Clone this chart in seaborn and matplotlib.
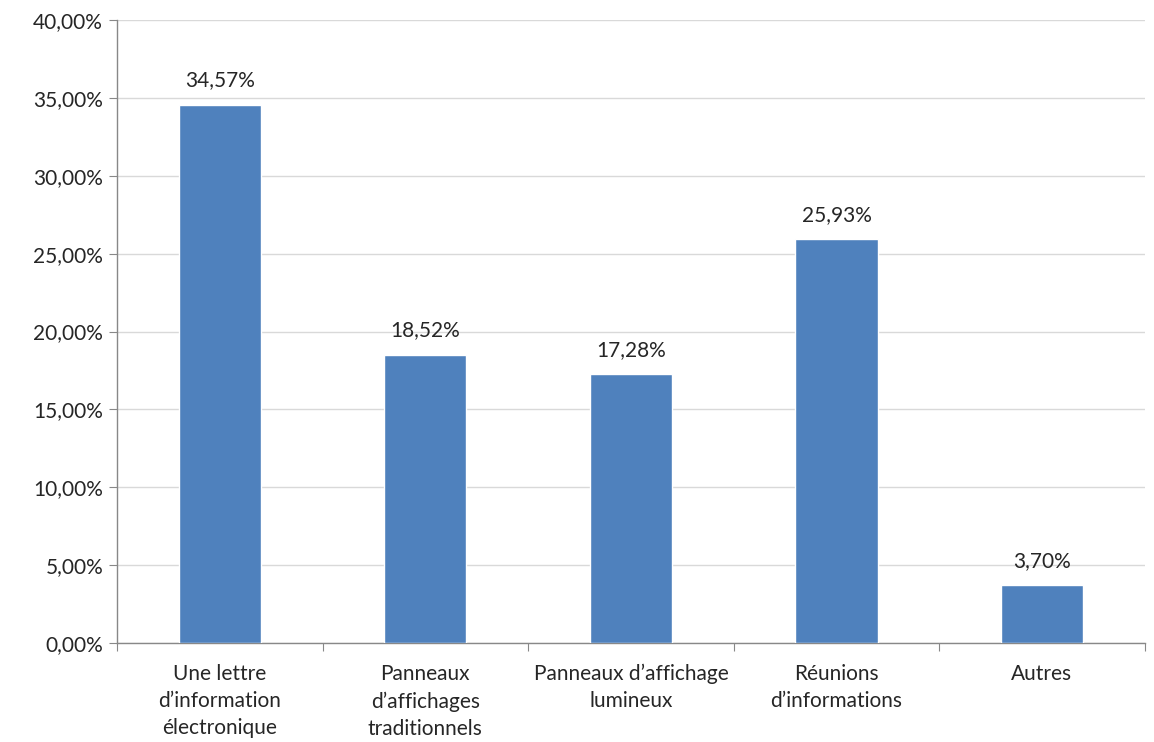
import matplotlib
matplotlib.use("Agg")
import matplotlib.pyplot as plt
import seaborn as sns
import pandas as pd
from matplotlib.ticker import FuncFormatter, FixedLocator

categories = [
    "Une lettre\nd\u2019information\n\u00e9lectronique",
    "Panneaux\nd\u2019affichages\ntraditionnels",
    "Panneaux d\u2019affichage\nlumineux",
    "R\u00e9unions\nd\u2019informations",
    "Autres",
]
values = [34.57, 18.52, 17.28, 25.93, 3.70]

def fr(v, decimals=2):
    return f"{v:.{decimals}f}".replace(".", ",") + "%"

def main():
    sns.set_style("white")
    plt.rcParams['font.family'] = ['Lato', 'DejaVu Sans']
    df = pd.DataFrame({'cat': categories, 'val': values})

    fig = plt.figure(figsize=(11.54, 7.42), dpi=100)
    ax = fig.add_axes([0.1014, 0.1334, 0.8906, 0.8396])
    sns.barplot(x='cat', y='val', data=df, color='#4F81BD', width=0.4,
                saturation=1, ax=ax, zorder=3)

    ax.set_ylim(0, 40)
    ax.set_xlim(-0.5, len(categories) - 0.5)
    ax.set_yticks(range(0, 41, 5))
    ax.yaxis.set_major_formatter(FuncFormatter(lambda v, p: fr(v)))
    ax.grid(axis='y', color='#D9D9D9', linewidth=1, zorder=0)
    ax.set_axisbelow(True)

    # ticks between categories on x
    ax.xaxis.set_major_locator(FixedLocator([-0.5 + i for i in range(len(categories) + 1)]))
    ax.xaxis.set_minor_locator(FixedLocator(list(range(len(categories)))))
    ax.set_xticklabels([''] * (len(categories) + 1))
    ax.set_xticklabels(categories, minor=True)
    ax.tick_params(axis='x', which='major', length=6, color='#888888', direction='out', bottom=True)
    ax.tick_params(axis='x', which='minor', length=0, labelsize=15, pad=15)
    ax.tick_params(axis='y', length=6, color='#888888', direction='out', left=True, labelsize=15, pad=4)
    for lab in ax.get_xticklabels(minor=True):
        lab.set_horizontalalignment('center')
        lab.set_multialignment('center')
        lab.set_linespacing(1.45)

    for s in ['top', 'right']:
        ax.spines[s].set_visible(False)
    for s in ['left', 'bottom']:
        ax.spines[s].set_color('#888888')
        ax.spines[s].set_linewidth(1)

    for i, v in enumerate(values):
        ax.text(i, v + 0.9, fr(v), ha='center', va='bottom', fontsize=15)

    ax.set_xlabel('')
    ax.set_ylabel('')
    fig.savefig('out.png', dpi=100)

if __name__ == "__main__":
    main()
